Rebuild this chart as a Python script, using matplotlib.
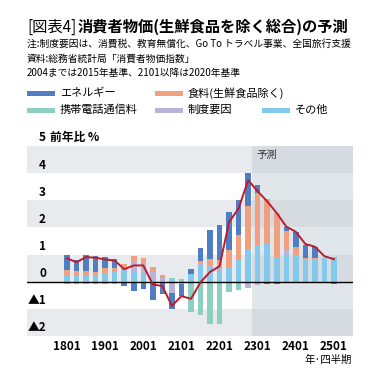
import matplotlib
matplotlib.use("Agg")
import matplotlib.pyplot as plt
from matplotlib.patches import Rectangle
from matplotlib.transforms import blended_transform_factory
import numpy as np

plt.rcParams['font.family'] = ['Noto Sans CJK JP', 'DejaVu Sans']

quarters = ['1801', '1802', '1803', '1804', '1901', '1902', '1903', '1904',
            '2001', '2002', '2003', '2004', '2101', '2102', '2103', '2104',
            '2201', '2202', '2203', '2204', '2301', '2302', '2303', '2304',
            '2401', '2402', '2403', '2404', '2501']
tick_labels = ['1801', '1901', '2001', '2101', '2201', '2301', '2401', '2501']
forecast_start = '2301'

# contributions (percentage points)
energy = [0.53, 0.40, 0.60, 0.60, 0.40, 0.35, -0.12, -0.35,
          -0.26, -0.67, -0.44, -0.60, -0.45, 0.18, 0.45, 1.05,
          1.30, 1.40, 1.30, 1.21, 0.31, -0.07, -0.07, 0.15,
          0.56, 0.46, 0.41, -0.05, -0.10]
food = [0.25, 0.20, 0.20, 0.15, 0.20, 0.15, 0.20, 0.20,
        0.19, 0.19, 0.08, 0.00, 0.02, -0.05, 0.10, 0.25,
        0.30, 0.62, 0.93, 1.59, 1.90, 1.65, 1.60, 0.72,
        0.31, 0.05, 0.03, 0.00, 0.05]
mobile = [-0.09, -0.09, -0.09, -0.09, -0.08, -0.08, -0.05, 0.00,
          0.00, 0.00, 0.00, 0.07, 0.07, -1.08, -1.22, -1.54,
          -1.54, -0.38, -0.29, 0.00, 0.00, 0.00, 0.00, 0.00,
          0.00, 0.00, 0.00, 0.00, 0.00]
policy = [0.00, 0.00, 0.00, 0.00, 0.00, 0.00, 0.00, 0.37,
          0.35, 0.30, 0.15, -0.40, -0.08, 0.00, 0.10, 0.10,
          0.10, 0.00, 0.00, -0.22, -0.12, 0.00, 0.00, 0.22,
          0.00, 0.00, 0.00, 0.00, 0.00]
other = [0.20, 0.20, 0.20, 0.20, 0.30, 0.35, 0.45, 0.37,
         0.32, 0.05, 0.00, 0.05, 0.00, 0.28, 0.58, 0.50,
         0.40, 0.55, 0.79, 1.19, 1.37, 1.40, 0.92, 0.94,
         0.98, 0.84, 0.84, 0.89, 0.86]
core_cpi = [0.86, 0.72, 0.91, 0.88, 0.82, 0.78, 0.46, 0.60,
            0.60, -0.10, -0.16, -0.89, -0.53, -0.63, -0.02, 0.36,
            0.57, 2.20, 2.70, 3.74, 3.33, 2.96, 2.53, 2.03,
            1.84, 1.39, 1.29, 0.94, 0.83]

colors = {'energy': '#4f7fc2', 'food': '#f1a07f', 'mobile': '#8dcfc0',
          'policy': '#b9b2d9', 'other': '#82c9ec'}

fig = plt.figure(figsize=(3.84, 3.83), dpi=100)
ax = fig.add_axes([27 / 384, 47 / 383, 326 / 384, 190 / 383])

x = np.arange(len(quarters))
ax.set_xlim(-4.2, 30.0)
ax.set_ylim(-2, 5)

# background bands
for lo in [4, 2, 0, -2]:
    ax.axhspan(lo, lo + 1, color='#e8eaed', lw=0, zorder=0)
fs = quarters.index(forecast_start) - 0.6
ax.axvspan(fs, 30.0, color='#c5ced6', alpha=0.5, lw=0, zorder=0.5)
ax.text(fs + 0.5, 4.85, '予測', fontsize=7.5, va='top', ha='left', color='#333333')

# stacked bars
series = [('other', other), ('policy', policy), ('food', food),
          ('energy', energy), ('mobile', mobile)]
neg_order = [('mobile', mobile), ('policy', policy), ('food', food),
             ('energy', energy), ('other', other)]
pos_bottom = np.zeros(len(x))
for name, vals in series:
    v = np.clip(np.array(vals), 0, None)
    ax.bar(x, v, bottom=pos_bottom, width=0.58, color=colors[name], lw=0, zorder=2)
    pos_bottom += v
neg_bottom = np.zeros(len(x))
for name, vals in neg_order:
    v = np.clip(np.array(vals), None, 0)
    ax.bar(x, v, bottom=neg_bottom, width=0.58, color=colors[name], lw=0, zorder=2)
    neg_bottom += v

ax.axhline(0, color='black', lw=1.0, zorder=3)
ax.plot(x, core_cpi, color='#be1a2c', lw=1.4, zorder=4)

# axes styling
for s in ax.spines.values():
    s.set_visible(False)
ax.set_yticks([])
ax.set_xticks([quarters.index(t) for t in tick_labels])
ax.set_xticklabels(tick_labels, fontsize=8.5, fontweight='bold')
ax.tick_params(axis='x', length=0, pad=3)

trans = blended_transform_factory(ax.transAxes, ax.transData)
ylabels = {4: '4', 3: '3', 2: '2', 1: '1', 0: '0', -1: '▲1', -2: '▲2'}
for val, lab in ylabels.items():
    ax.text(0.058, val + 0.06, lab, transform=trans, ha='right', va='bottom',
            fontsize=8.5, fontweight='bold')
ax.text(0.058, 5.06, '5', transform=trans, ha='right', va='bottom',
        fontsize=8.5, fontweight='bold', clip_on=False)
ax.text(0.07, 5.06, '前年比 %', transform=trans, ha='left', va='bottom',
        fontsize=8.5, fontweight='bold', clip_on=False)

fig.text(352 / 384, 1 - 360 / 383, '年·四半期', ha='right', va='center', fontsize=7.5)

# title and notes
fig.text(27 / 384, 1 - 27 / 383, '[図表4]', ha='left', va='center', fontsize=11)
fig.text(78 / 384, 1 - 27 / 383, '消費者物価(生鮮食品を除く総合)の予測', ha='left',
         va='center', fontsize=11, fontweight='bold')
notes = ['注:制度要因は、消費税、教育無償化、Go To トラベル事業、全国旅行支援',
         '資料:総務省統計局「消費者物価指数」',
         '2004までは2015年基準、2101以降は2020年基準']
for i, t in enumerate(notes):
    fig.text(27 / 384, 1 - (44 + i * 14.3) / 383, t, ha='left', va='center', fontsize=7)

# legend
legend_items = [('エネルギー', 'energy', 27, 93), ('食料(生鮮食品除く)', 'food', 155, 93),
                ('携帯電話通信料', 'mobile', 27, 110), ('制度要因', 'policy', 155, 110),
                ('その他', 'other', 262, 110)]
for label, key, px, py in legend_items:
    fig.patches.append(Rectangle((px / 384, 1 - (py + 2.5) / 383), 28 / 384, 5 / 383,
                                 transform=fig.transFigure, color=colors[key], lw=0))
    fig.text((px + 33) / 384, 1 - py / 383, label, ha='left', va='center', fontsize=8)

fig.savefig('out.png', dpi=100)
